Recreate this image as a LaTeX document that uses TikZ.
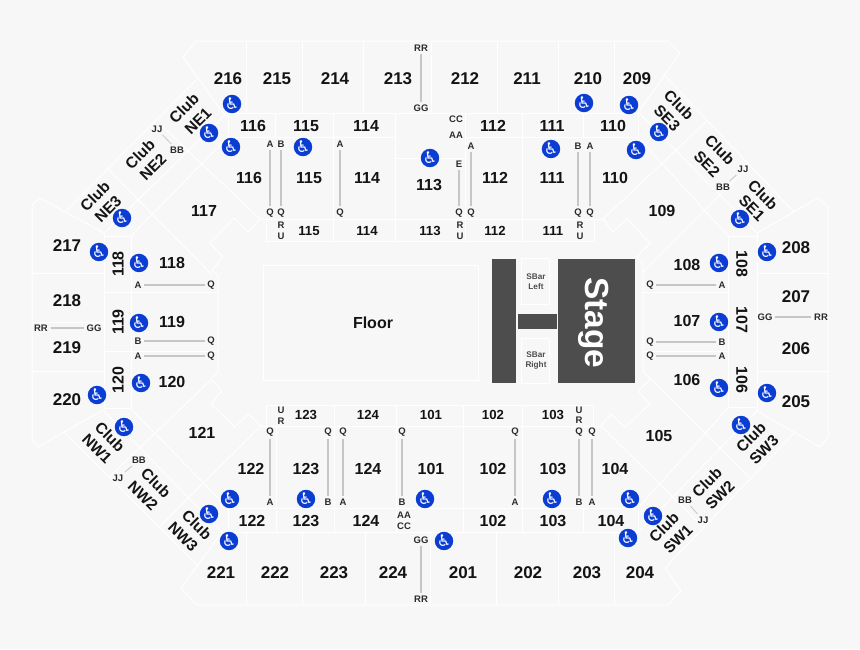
\documentclass[tikz,border=0pt]{standalone}
\usepackage{fontspec}
\setmainfont{Liberation Sans}
\newfontfamily\djv{DejaVu Sans}
\definecolor{bgc}{HTML}{F7F7F7}
\definecolor{rowc}{HTML}{C6C6C6}
\definecolor{wcblue}{HTML}{0B3DD3}
\definecolor{stagec}{HTML}{4D4D4D}
\definecolor{inkc}{HTML}{141414}
\definecolor{smallc}{HTML}{2B2B2B}
\tikzset{
  wall/.style={draw=white,line width=1pt,line join=round},
  aisle/.style={draw=rowc,line width=1.1pt},
  thin aisle/.style={draw=rowc,line width=.8pt},
  sectwo/.style={font=\bfseries\fontsize{17}{17}\selectfont,text=inkc,inner sep=0pt},
  sec/.style={font=\bfseries\fontsize{16}{17}\selectfont,text=inkc,inner sep=0pt},
  secs/.style={font=\bfseries\fontsize{13.2}{15}\selectfont,text=inkc,inner sep=0pt},
  rowlab/.style={font=\bfseries\fontsize{9.5}{9.5}\selectfont,text=smallc,inner sep=2.5pt},
  clublab/.style={font=\bfseries\fontsize{15.5}{15}\selectfont,text=inkc,inner sep=0pt},
  sbar/.style={font=\bfseries\fontsize{8.2}{9.7}\selectfont,text=stagec,inner sep=0pt},
  wc/.style={circle,fill=wcblue,minimum size=16pt,inner sep=0pt,text=white,font=\djv\fontsize{16}{16}\selectfont},
}
\begin{document}
\begin{tikzpicture}[x=1pt,y=-1pt]
\path[use as bounding box,fill=bgc] (0,0) rectangle (860,649);

% walls: upper 200 level
\draw[wall] (223,113)--(183,57)--(196,41)--(668,41)--(680,53)--(638,113);
\draw[wall] (223,113)--(638,113);
\foreach \x in {246,302,363,431,497,558,614} \draw[wall] (\x,41)--(\x,113);
% lower 200 level
\draw[wall] (222,532)--(181,588)--(197,605)--(668,605)--(681,591)--(665,568);
\draw[wall] (227,532)--(638,532);
\foreach \x in {246,302,365,430,496,558,614} \draw[wall] (\x,532)--(\x,605);
% left 200 level
\draw[wall] (104,233)--(40,198)--(32,205)--(32,440)--(38,447)--(103,410);
\foreach \y in {273,322,371} \draw[wall] (32,\y)--(104,\y);
% right 200 level
\draw[wall] (757,233)--(818,198)--(828,207)--(828,437)--(820,447)--(757,411);
\foreach \y in {273,371} \draw[wall] (757,\y)--(828,\y);
% club bands
\draw[wall] (197,79)--(65,212);
\draw[wall] (227,113)--(104,233);
\draw[wall] (228,137)--(131,236);
\draw[wall] (161,125)--(260,219);
\draw[wall] (107,168)--(212,275);
\draw[wall] (665,76)--(794,212);
\draw[wall] (639,113)--(757,233);
\draw[wall] (638,137)--(728,236);
\draw[wall] (707,121)--(603,219);
\draw[wall] (747,168)--(643,272);
\draw[wall] (65,433)--(197,565);
\draw[wall] (103,410)--(222,532);
\draw[wall] (131,409)--(228,508);
\draw[wall] (212,379)--(110,476);
\draw[wall] (261,426)--(159,527);
\draw[wall] (794,433)--(665,568);
\draw[wall] (757,411)--(638,532);
\draw[wall] (728,408)--(638,508);
\draw[wall] (750,478)--(651,379);
\draw[wall] (703,527)--(601,426);
% notches
\draw[wall] (260,219)--(248,232)--(234,218)--(210,243)--(223,257)--(212,270)--(218,276)--(218,372)--(211,379)--(222,391)--(211,404)--(235,427)--(248,414)--(261,426);
\draw[wall] (603,219)--(613,232)--(627,219)--(650,243)--(637,257)--(643,264)--(643,372)--(651,379)--(638,391)--(650,404)--(625,427)--(611,414)--(601,426);
% side boxes
\draw[wall] (104,233)--(104,410);
\draw[wall] (131,236)--(131,408);
\draw[wall] (104,236)--(131,236);
\draw[wall] (104,408)--(131,408);
\draw[wall] (104,292)--(218,292);
\draw[wall] (104,351)--(218,351);
\draw[wall] (728,236)--(728,408);
\draw[wall] (757,233)--(757,411);
\draw[wall] (728,236)--(757,236);
\draw[wall] (728,407)--(757,407);
\draw[wall] (643,292)--(728,292);
\draw[wall] (643,351)--(728,351);
% upper 100 level
\draw[wall] (228,113)--(228,137);
\draw[wall] (228,137)--(395,137);
\draw[wall] (465,137)--(638,137);
\draw[wall] (638,113)--(638,137);
\draw[wall] (275,113)--(275,137);
\draw[wall] (583,113)--(583,137);
\draw[wall] (333,113)--(333,241);
\draw[wall] (395,113)--(395,241);
\draw[wall] (395,158)--(465,158);
\draw[wall] (465,113)--(465,241);
\draw[wall] (522,113)--(522,241);
\draw[wall] (260,219)--(603,219);
\draw[wall] (266,219)--(266,241)--(594,241)--(594,219);
% lower 100 level
\draw[wall] (261,426)--(601,426);
\draw[wall] (266,426)--(266,405)--(593,405)--(593,426);
\draw[wall] (228,508)--(638,508);
\draw[wall] (228,508)--(228,532);
\draw[wall] (638,508)--(638,532);
\draw[wall] (276,426)--(276,532);
\draw[wall] (334,405)--(334,532);
\draw[wall] (396,405)--(396,532);
\draw[wall] (463,405)--(463,532);
\draw[wall] (522,405)--(522,532);
\draw[wall] (583,508)--(583,532);
% floor
\draw[wall] (263,265) rectangle (478,380);
\node[sec] (floor) at (373,323) {Floor};
% stage
\fill[stagec] (492,259) rectangle (516,383);
\fill[stagec] (518,314) rectangle (557,329);
\fill[stagec] (558,259) rectangle (635,383);
\node[rotate=-90,text=white,font=\bfseries\fontsize{33.4}{33}\selectfont,inner sep=0pt] (stage) at (594,322.5) {Stage};
\draw[wall] (521.5,258) rectangle (549.5,304.5);
\draw[wall] (521.5,338) rectangle (549.5,383);
\node[sbar,align=center] (sbl) at (536,282) {SBar\\Left};
\node[sbar,align=center] (sbr) at (536,360.5) {SBar\\Right};

% section numbers
\foreach \t/\x/\y [count=\i] in {216/228/79,215/277/79,214/335/79,213/398/79,212/465/79,211/527/79,210/588/79,209/637/79,
 217/67/246,218/67/301,219/67/348,220/67/400,208/796/248,207/796/297,206/796/349,205/796/402,
 221/221/573,222/275/573,223/334/573,224/393/573,201/463/573,202/528/573,203/587/573,204/640/573}
  \node[sectwo,name=upper\i] at (\x,\y) {\t};
\foreach \t/\x/\y [count=\i] in {
 116/253/126,115/306/126,114/366/126,112/493/126,111/552/126,110/613/126,
 116/249/178,115/309/178,114/367/178,113/429/185,112/495/178,111/552/178,110/615/178,
 117/204/211,109/662/211,118/172/263,119/172/322,120/172/382,108/687/265,107/687/321,106/687/380,
 121/202/433,105/659/436,
 122/251/469,123/306/469,124/368/469,101/431/469,102/493/469,103/553/469,104/615/469,
 122/252/521,123/306/521,124/366/521,102/493/521,103/553/521,104/611/521}
  \node[sec,name=sec\i] at (\x,\y) {\t};
\foreach \t/\x/\y [count=\i] in {115/309/231,114/367/231,113/430/231,112/495/231,111/553/231,
 123/306/415,124/368/415,101/431/415,102/493/415,103/553/415}
  \node[secs,name=secs\i] at (\x,\y) {\t};
\foreach \t/\x/\y [count=\i] in {118/118/264,119/118/322,120/118/380}
  \node[sec,rotate=90,name=vl\i] at (\x,\y) {\t};
\foreach \t/\x/\y [count=\i] in {108/742/264,107/742/320,106/742/380}
  \node[sec,rotate=-90,name=vr\i] at (\x,\y) {\t};

% clubs
\foreach \t/\x/\y/\r [count=\i] in {Club/184/108/45,NE1/198/121/45,Club/140/154/45,NE2/153/167/45,Club/95/196/45,NE3/108/209/45,
 Club/679/105/-45,SE3/667/118/-45,Club/720/150/-45,SE2/707/164/-45,Club/763/195/-45,SE1/752/208/-45,
 Club/110/437/-45,NW1/97/449/-45,Club/156/483/-45,NW2/143/496/-45,Club/197/525/-45,NW3/183/537/-45,
 Club/751/437/45,SW3/764/450/45,Club/707/482/45,SW2/720/495/45,Club/664/527/45,SW1/678/539/45}
  \node[clublab,rotate=\r,name=club\i] at (\x,\y) {\t};

% row label pairs joined by a grey line
\foreach \a/\ax/\ay/\b/\bx/\by [count=\i] in {
 RR/421/48/GG/421/108,
 A/270/144/Q/270/213, B/281/144/Q/281/213, A/340/144/Q/340/213,
 E/459/164/Q/459/213, A/471/146/Q/471/213, B/578/146/Q/578/213, A/590/146/Q/590/213,
 A/138/285/Q/211/285, B/138/341/Q/211/341, A/138/356/Q/211/356,
 Q/650/285/A/722/285, Q/650/342/B/722/342, Q/650/356/A/722/356,
 RR/41/328/GG/94/328, GG/765/317/RR/821/317,
 Q/270/432/A/270/502, Q/328/432/B/328/502, Q/343/432/A/343/502, Q/402/432/B/402/502,
 Q/515/432/A/515/502, Q/579/432/B/579/502, Q/592/432/A/592/502,
 GG/421/540/RR/421/599}
{
  \node[rowlab,name=ra\i] at (\ax,\ay) {\a};
  \node[rowlab,name=rb\i] at (\bx,\by) {\b};
  \draw[aisle] (ra\i)--(rb\i);
}
\foreach \a/\ax/\ay/\b/\bx/\by [count=\i] in {
 JJ/157/129/BB/177/150, JJ/743/169/BB/723/187, BB/139/460/JJ/118/478, BB/685/500/JJ/703/520}
{
  \node[rowlab,name=ja\i] at (\ax,\ay) {\a};
  \node[rowlab,name=jb\i] at (\bx,\by) {\b};
  \draw[thin aisle] (ja\i)--(jb\i);
}
\foreach \t/\x/\y [count=\i] in {R/281/225,U/281/236,CC/456/119,AA/456/135,R/460/225,U/460/236,R/580/225,U/580/236,
 U/281/410,R/281/421,AA/404/515,CC/404/526,U/579/410,R/579/420}
  \node[rowlab,inner sep=0pt,name=sl\i] at (\x,\y) {\t};

% accessible seating
\foreach \x/\y [count=\i] in {232/104,209/133,231/147,303/147,430/158,122/218,99/252,139/263,139/323,
 584/103,629/105,659/132,636/150,551/149,740/219,767/252,719/263,719/322,
 141/383,97/395,124/427,230/499,306/499,425/499,209/514,229/541,
 719/388,767/393,741/425,552/499,630/499,653/516,628/538,444/541}
  \node[wc,name=wc\i] at (\x,\y) {^^^^267f};
\end{tikzpicture}
\end{document}
